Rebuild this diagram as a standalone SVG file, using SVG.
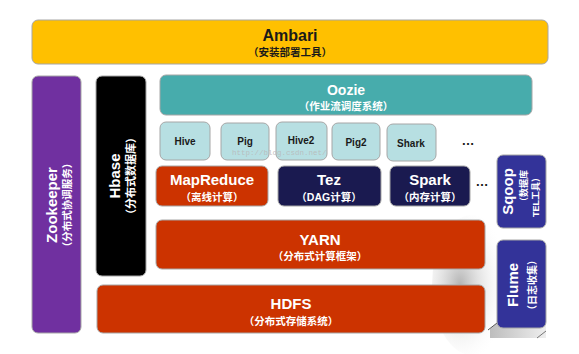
<svg xmlns="http://www.w3.org/2000/svg" width="579" height="354" viewBox="0 0 579 354">
<defs>
<style>
.box{stroke:#a6a6a6;stroke-width:1}
.t{font-family:"Liberation Sans","Noto Sans CJK SC",sans-serif;font-weight:bold;text-anchor:middle}
.w{fill:#ffffff}
.k{fill:#1a1a1a}
.big{font-size:15px}
.sub{font-size:10.5px}
.sm{font-size:10px}
</style>
<radialGradient id="sh" cx="0.35" cy="0.5" r="0.6">
<stop offset="0" stop-color="#9a9a9a" stop-opacity="0.75"/>
<stop offset="1" stop-color="#ffffff" stop-opacity="0"/>
</radialGradient>
<linearGradient id="fl" x1="0" y1="0" x2="1" y2="0">
<stop offset="0" stop-color="#bdbdbd"/>
<stop offset="1" stop-color="#eeeeee"/>
</linearGradient>
</defs>
<rect width="579" height="354" fill="#ffffff"/>
<g id="shadow">
<ellipse cx="472" cy="285" rx="40" ry="70" fill="url(#sh)"/>
<polygon points="490,329 497,323 546,323 546,338 490,338" fill="url(#fl)"/>
<line x1="488" y1="330" x2="497" y2="323" stroke="#555" stroke-width="1"/>
<line x1="537" y1="338" x2="546" y2="331" stroke="#777" stroke-width="1"/>
</g>
<g id="ambari">
<rect class="box" x="32" y="20" width="516" height="44" rx="6" fill="#FFC000"/>
<text class="t k" font-size="16" x="290" y="41">Ambari</text>
<text class="t k sub" x="290" y="56">（安装部署工具）</text>
</g>
<g id="zookeeper">
<rect class="box" x="32" y="76" width="49" height="257" rx="6" fill="#7030A0"/>
<text class="t w big" transform="translate(57,205) rotate(-90)">Zookeeper</text>
<text class="t w sub" transform="translate(71,205) rotate(-90)">（分布式协调服务）</text>
</g>
<g id="hbase">
<rect class="box" x="96" y="76" width="50" height="200" rx="6" fill="#000000"/>
<text class="t w big" transform="translate(120,176) rotate(-90)">Hbase</text>
<text class="t w" font-size="11" transform="translate(135,176) rotate(-90)">（分布式数据库）</text>
</g>
<g id="oozie">
<rect class="box" x="160" y="75" width="372" height="40" rx="6" fill="#47ACAC"/>
<text class="t w" font-size="14" x="346" y="95">Oozie</text>
<text class="t w sub" x="346" y="110">（作业流调度系统）</text>
</g>
<g id="hive">
<rect class="box" x="160" y="122" width="50" height="38" rx="6" fill="#B7DFE2" stroke="#8fb9bd"/>
<text class="t k sm" x="185" y="145">Hive</text>
</g>
<g id="pig">
<rect class="box" x="221" y="123" width="48" height="37" rx="6" fill="#B7DFE2"/>
<text class="t k sm" x="245" y="145">Pig</text>
</g>
<g id="hive2">
<rect class="box" x="276" y="122" width="51" height="38" rx="6" fill="#B7DFE2"/>
<text class="t k sm" x="301" y="144">Hive2</text>
</g>
<g id="pig2">
<rect class="box" x="332" y="123" width="48" height="37" rx="6" fill="#B7DFE2"/>
<text class="t k sm" x="356" y="146">Pig2</text>
</g>
<g id="shark">
<rect class="box" x="387" y="124" width="49" height="37" rx="6" fill="#B7DFE2"/>
<text class="t k sm" x="411" y="147">Shark</text>
</g>
<text class="t k" font-size="13" x="468" y="145">…</text>
<text x="232" y="154.5" font-family="'Liberation Mono',monospace" font-size="7.5" fill="#b8b8b8" fill-opacity="0.85">http://blog.csdn.net/</text>
<g id="mapreduce">
<rect class="box" x="156" y="166" width="112" height="40" rx="6" fill="#CC3300"/>
<text class="t w big" x="212" y="185">MapReduce</text>
<text class="t w sub" x="212" y="201">（离线计算）</text>
</g>
<g id="tez">
<rect class="box" x="278" y="166" width="103" height="40" rx="6" fill="#1A1A50"/>
<text class="t w big" x="329" y="185">Tez</text>
<text class="t w sub" x="329" y="201">（DAG计算）</text>
</g>
<g id="spark">
<rect class="box" x="390" y="166" width="80" height="40" rx="6" fill="#1A1A50"/>
<text class="t w big" x="430" y="185">Spark</text>
<text class="t w sub" x="430" y="201">（内存计算）</text>
</g>
<text class="t k" font-size="13" x="482" y="186">…</text>
<g id="sqoop">
<rect class="box" x="497" y="155" width="49" height="73" rx="6" fill="#333399" stroke="#22226a"/>
<text class="t w big" transform="translate(513,191.5) rotate(-90)">Sqoop</text>
<text class="t w" font-size="9" transform="translate(527,188) rotate(-90)">（数据库</text>
<text class="t w" font-size="9" transform="translate(539,195) rotate(-90)">TEL工具）</text>
</g>
<g id="flume">
<rect class="box" x="497" y="240" width="49" height="88" rx="6" fill="#333399" stroke="#22226a"/>
<text class="t w big" transform="translate(518,285) rotate(-90)">Flume</text>
<text class="t w" font-size="10" transform="translate(536,285) rotate(-90)">（日志收集）</text>
</g>
<g id="yarn">
<rect class="box" x="156" y="220" width="329" height="49" rx="6" fill="#CC3300"/>
<text class="t w big" x="320" y="245">YARN</text>
<text class="t w sub" x="320" y="260">（分布式计算框架）</text>
</g>
<g id="hdfs">
<rect class="box" x="97" y="285" width="388" height="48" rx="6" fill="#CC3300"/>
<text class="t w big" x="291" y="309">HDFS</text>
<text class="t w sub" x="291" y="325">（分布式存储系统）</text>
</g>
<g id="connectors"></g>
</svg>
